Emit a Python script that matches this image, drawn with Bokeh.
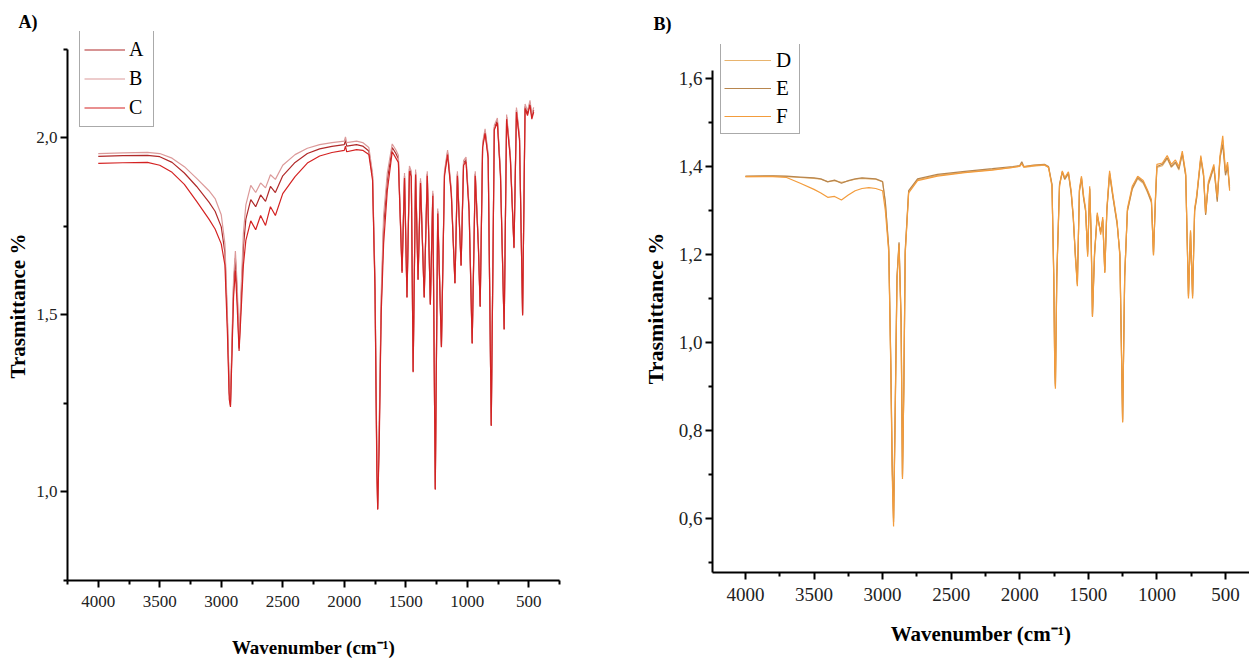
from bokeh.plotting import figure
from bokeh.layouts import row
from bokeh.models import (Range1d, FixedTicker, CustomJSTickFormatter, Legend,
                          LegendItem)
from bokeh.embed import file_html
from bokeh.resources import INLINE

# ---------------- data: panel A ----------------
wn_A = [4000, 3800, 3600, 3500, 3400, 3300, 3200, 3100, 3050, 3000, 2970, 2950,
        2935, 2925, 2915, 2900, 2885, 2870, 2855, 2840, 2820, 2800, 2760, 2720,
        2680, 2640, 2600, 2560, 2500, 2400, 2300, 2200, 2100, 2000, 1990, 1980,
        1900, 1850, 1800, 1770, 1750, 1735, 1728, 1715, 1700, 1680, 1650, 1610,
        1580, 1560, 1530, 1510, 1490, 1470, 1455, 1440, 1420, 1400, 1380, 1350,
        1325, 1300, 1280, 1260, 1240, 1210, 1185, 1160, 1130, 1100, 1080, 1050,
        1030, 1010, 985, 960, 935, 910, 895, 875, 855, 830, 805, 780, 755, 730,
        700, 680, 650, 620, 600, 575, 550, 530, 510, 490, 475, 460]

ser_A = [1.947, 1.949, 1.950, 1.946, 1.930, 1.900, 1.862, 1.818, 1.792, 1.748, 1.675, 1.480,
         1.280, 1.245, 1.380, 1.580, 1.660, 1.552, 1.405, 1.530, 1.690, 1.770, 1.825, 1.805,
         1.838, 1.820, 1.862, 1.845, 1.892, 1.930, 1.955, 1.968, 1.975, 1.980, 1.992, 1.976,
         1.980, 1.976, 1.962, 1.890, 1.580, 1.080, 0.952, 1.180, 1.520, 1.750, 1.880, 1.972,
         1.955, 1.940, 1.622, 1.892, 1.550, 1.912, 1.898, 1.340, 1.902, 1.600, 1.878, 1.550,
         1.898, 1.530, 1.842, 1.008, 1.792, 1.410, 1.898, 1.958, 1.848, 1.590, 1.898, 1.640,
         1.928, 1.938, 1.798, 1.420, 1.898, 1.700, 1.525, 1.978, 2.018, 1.948, 1.188, 2.028, 2.048, 1.898,
         1.460, 2.058, 1.948, 1.690, 2.078, 1.998, 1.500, 2.088, 2.068, 2.098, 2.058, 2.078]

ser_B = [1.955, 1.957, 1.958, 1.955, 1.942, 1.918, 1.885, 1.850, 1.828, 1.782, 1.700, 1.500,
         1.300, 1.255, 1.400, 1.600, 1.680, 1.580, 1.420, 1.560, 1.730, 1.810, 1.865, 1.845,
         1.872, 1.858, 1.895, 1.882, 1.922, 1.952, 1.970, 1.980, 1.986, 1.990, 2.002, 1.986,
         1.990, 1.986, 1.972, 1.900, 1.600, 1.100, 0.960, 1.200, 1.550, 1.780, 1.900, 1.982,
         1.965, 1.950, 1.630, 1.900, 1.555, 1.920, 1.905, 1.345, 1.910, 1.605, 1.885, 1.555,
         1.905, 1.535, 1.850, 1.012, 1.800, 1.415, 1.905, 1.965, 1.855, 1.595, 1.905, 1.645,
         1.935, 1.945, 1.805, 1.425, 1.905, 1.705, 1.528, 1.985, 2.025, 1.955, 1.192, 2.035, 2.055, 1.905,
         1.465, 2.065, 1.955, 1.695, 2.085, 2.005, 1.505, 2.095, 2.075, 2.105, 2.065, 2.085]

ser_C = [1.927, 1.929, 1.930, 1.922, 1.902, 1.868, 1.820, 1.770, 1.742, 1.700, 1.640, 1.450,
         1.262, 1.240, 1.362, 1.550, 1.625, 1.520, 1.398, 1.500, 1.640, 1.710, 1.765, 1.740,
         1.780, 1.752, 1.805, 1.780, 1.842, 1.890, 1.928, 1.948, 1.958, 1.964, 1.976, 1.960,
         1.966, 1.964, 1.952, 1.880, 1.570, 1.060, 0.950, 1.150, 1.500, 1.700, 1.850, 1.960,
         1.942, 1.930, 1.618, 1.886, 1.548, 1.905, 1.890, 1.338, 1.896, 1.598, 1.872, 1.548,
         1.892, 1.528, 1.836, 1.006, 1.786, 1.408, 1.892, 1.952, 1.842, 1.588, 1.892, 1.638,
         1.922, 1.932, 1.792, 1.418, 1.892, 1.696, 1.522, 1.972, 2.012, 1.942, 1.186, 2.022, 2.042, 1.892,
         1.458, 2.052, 1.942, 1.688, 2.072, 1.992, 1.498, 2.082, 2.062, 2.092, 2.052, 2.072]

# ---------------- data: panel B ----------------
wn_B = [4000, 3800, 3700, 3600, 3500, 3450, 3400, 3350, 3300, 3250, 3200, 3150,
        3100, 3050, 3000, 2980, 2955, 2940, 2930, 2920, 2910, 2895, 2880, 2865,
        2855, 2845, 2835, 2810, 2745, 2600, 2400, 2200, 2050, 2000, 1985, 1970,
        1900, 1820, 1790, 1765, 1752, 1745, 1740, 1730, 1710, 1690, 1672, 1645,
        1625, 1610, 1595, 1580, 1565, 1550, 1535, 1520, 1505, 1490, 1480, 1470,
        1455, 1435, 1410, 1395, 1380, 1365, 1345, 1320, 1290, 1270, 1250, 1235,
        1215, 1180, 1140, 1100, 1070, 1040, 1025, 1010, 1000, 960, 925, 895,
        865, 840, 815, 790, 770, 755, 740, 725, 710, 680, 660, 645,
        625, 610, 585, 560, 540, 520, 500, 485, 470]

ser_E = [1.378, 1.379, 1.378, 1.376, 1.374, 1.372, 1.365, 1.369, 1.362, 1.368, 1.372, 1.374,
         1.373, 1.372, 1.366, 1.320, 1.215, 0.950, 0.720, 0.592, 0.800, 1.150, 1.228, 1.050,
         0.695, 0.900, 1.210, 1.345, 1.372, 1.382, 1.389, 1.395, 1.400, 1.402, 1.411, 1.400,
         1.403, 1.405, 1.400, 1.360, 1.150, 0.950, 0.900, 1.150, 1.360, 1.388, 1.372, 1.385,
         1.340, 1.285, 1.200, 1.132, 1.345, 1.375, 1.330, 1.300, 1.200, 1.350, 1.250, 1.060,
         1.200, 1.290, 1.250, 1.280, 1.160, 1.300, 1.385, 1.330, 1.270, 1.200, 0.820, 1.150,
         1.300, 1.350, 1.375, 1.365, 1.345, 1.320, 1.200, 1.330, 1.400, 1.405, 1.420, 1.400,
         1.410, 1.395, 1.430, 1.380, 1.105, 1.250, 1.105, 1.300, 1.330, 1.420, 1.380, 1.290,
         1.360, 1.375, 1.400, 1.320, 1.420, 1.450, 1.380, 1.400, 1.350]

ser_D = [1.377, 1.378, 1.377, 1.375, 1.373, 1.371, 1.366, 1.368, 1.364, 1.367, 1.371, 1.373,
         1.372, 1.371, 1.365, 1.318, 1.212, 0.955, 0.730, 0.600, 0.810, 1.148, 1.225, 1.055,
         0.700, 0.905, 1.205, 1.342, 1.370, 1.380, 1.387, 1.393, 1.398, 1.400, 1.408, 1.398,
         1.401, 1.403, 1.398, 1.358, 1.155, 0.955, 0.905, 1.155, 1.358, 1.386, 1.370, 1.383,
         1.338, 1.282, 1.205, 1.138, 1.342, 1.372, 1.328, 1.298, 1.205, 1.348, 1.252, 1.065,
         1.205, 1.288, 1.252, 1.278, 1.165, 1.298, 1.382, 1.328, 1.268, 1.205, 0.825, 1.152,
         1.298, 1.348, 1.372, 1.362, 1.342, 1.318, 1.205, 1.328, 1.398, 1.402, 1.418, 1.398,
         1.408, 1.392, 1.428, 1.378, 1.110, 1.252, 1.110, 1.298, 1.328, 1.418, 1.378, 1.292,
         1.358, 1.372, 1.398, 1.325, 1.418, 1.460, 1.385, 1.405, 1.355]

ser_F = [1.377, 1.377, 1.375, 1.362, 1.348, 1.340, 1.330, 1.332, 1.324, 1.335, 1.345, 1.350,
         1.352, 1.350, 1.345, 1.300, 1.205, 0.940, 0.700, 0.582, 0.790, 1.140, 1.222, 1.045,
         0.690, 0.895, 1.200, 1.340, 1.368, 1.378, 1.386, 1.392, 1.398, 1.401, 1.406, 1.399,
         1.402, 1.404, 1.398, 1.355, 1.145, 0.945, 0.895, 1.145, 1.355, 1.390, 1.375, 1.388,
         1.345, 1.290, 1.195, 1.128, 1.348, 1.378, 1.335, 1.305, 1.195, 1.355, 1.245, 1.058,
         1.195, 1.295, 1.245, 1.285, 1.158, 1.305, 1.390, 1.335, 1.275, 1.195, 0.818, 1.148,
         1.305, 1.355, 1.378, 1.368, 1.348, 1.325, 1.198, 1.335, 1.405, 1.408, 1.425, 1.405,
         1.415, 1.400, 1.435, 1.385, 1.100, 1.255, 1.100, 1.305, 1.335, 1.425, 1.385, 1.295,
         1.365, 1.380, 1.405, 1.330, 1.425, 1.470, 1.390, 1.410, 1.345]

labels_A = ["A", "B", "C"]
labels_B = ["D", "E", "F"]
colors_A = ["#b02a2a", "#dc9a9a", "#d42222"]
colors_B = ["#e8b46e", "#b8864e", "#f39c3c"]

x_major = [4000, 3500, 3000, 2500, 2000, 1500, 1000, 500]
x_minor = [4250, 3750, 3250, 2750, 2250, 1750, 1250, 750, 250]
yA_major = [1.0, 1.5, 2.0]
yA_minor = [0.75, 1.25, 1.75, 2.25]
yB_major = [0.6, 0.8, 1.0, 1.2, 1.4, 1.6]
yB_minor = [0.5, 0.7, 0.9, 1.1, 1.3, 1.5]

SERIF = "Liberation Serif"
comma_fmt = CustomJSTickFormatter(code="return tick.toFixed(1).replace('.', ',');")


def style_axes(p, tick_size, xlab_size, ylab_size, xstand, ystand):
    for ax in (p.xaxis[0], p.yaxis[0]):
        ax.axis_line_width = 2
        ax.axis_line_color = "black"
        ax.major_tick_line_width = 2
        ax.minor_tick_line_width = 2
        ax.major_tick_out = 7
        ax.major_tick_in = 0
        ax.minor_tick_out = 4
        ax.minor_tick_in = 0
        ax.major_label_text_font = SERIF
        ax.major_label_text_font_size = tick_size
        ax.major_label_text_color = "#222222"
        ax.axis_label_text_font = SERIF
        ax.axis_label_text_font_style = "bold"
        ax.axis_label_text_color = "black"
    p.xaxis[0].axis_label_text_font_size = xlab_size
    p.yaxis[0].axis_label_text_font_size = ylab_size
    p.xaxis[0].major_label_standoff = 8
    p.yaxis[0].major_label_standoff = 3
    p.xaxis[0].axis_label_standoff = xstand
    p.yaxis[0].axis_label_standoff = ystand
    p.xgrid.visible = False
    p.ygrid.visible = False
    p.outline_line_color = None


def style_title(p, text, offset, standoff):
    p.title.text = text
    p.title.align = "left"
    p.title.offset = offset
    p.title.standoff = standoff
    p.title.text_font = SERIF
    p.title.text_font_style = "bold"
    p.title.text_font_size = "18px"
    p.title.text_color = "black"


# ---------------- panel A ----------------
pA = figure(width=636, height=662, output_backend="svg", toolbar_location=None,
            x_range=Range1d(4250, 250), y_range=Range1d(0.75, 2.2994),
            min_border_left=67, min_border_right=77, min_border_top=31,
            min_border_bottom=82, x_axis_label="Wavenumber (cm⁻¹)",
            y_axis_label="Trasmittance %", frame_align=False)
pA.xaxis[0].ticker = FixedTicker(ticks=x_major, minor_ticks=x_minor)
pA.yaxis[0].ticker = FixedTicker(ticks=yA_major, minor_ticks=yA_minor)
pA.yaxis[0].formatter = comma_fmt
pA.yaxis[0].bounds = (0.75, 2.25)
style_axes(pA, "17px", "19px", "21px", 27, 3)
style_title(pA, "A)", -49, 0)

rA = []
for ys, c in zip([ser_A, ser_B, ser_C], colors_A):
    rA.append(pA.line(wn_A, ys, line_color=c, line_width=1.2))
legA = Legend(items=[LegendItem(label=l, renderers=[r]) for l, r in zip(labels_A, rA)],
              location=(12, 453), padding=4, spacing=0, margin=0,
              glyph_width=41, glyph_height=29, label_height=29, label_standoff=4,
              label_text_font=SERIF, label_text_font_size="20px",
              label_text_color="black",
              border_line_color="#555555", border_line_width=1,
              background_fill_alpha=0)
pA.add_layout(legA)

# ---------------- panel B ----------------
pB = figure(width=613, height=662, output_backend="svg", toolbar_location=None,
            x_range=Range1d(4240, 325), y_range=Range1d(0.4773, 1.6773),
            min_border_left=76, min_border_right=0, min_border_top=44,
            min_border_bottom=90, x_axis_label="Wavenumber (cm⁻¹)",
            y_axis_label="Trasmittance %", frame_align=False)
pB.xaxis[0].ticker = FixedTicker(ticks=x_major, minor_ticks=x_minor)
pB.yaxis[0].ticker = FixedTicker(ticks=yB_major, minor_ticks=yB_minor)
pB.yaxis[0].formatter = comma_fmt
pB.yaxis[0].bounds = (0.4773, 1.618)
style_axes(pB, "19px", "21px", "22px", 18, 8)
style_title(pB, "B)", -59, 21)

rB = []
for ys, c in zip([ser_D, ser_E, ser_F], colors_B):
    rB.append(pB.line(wn_B, ys, line_color=c, line_width=1.2))
legB = Legend(items=[LegendItem(label=l, renderers=[r]) for l, r in zip(labels_B, rB)],
              location=(8, 438), padding=3, spacing=0, margin=0,
              glyph_width=47, glyph_height=28, label_height=28, label_standoff=5,
              label_text_font=SERIF, label_text_font_size="21px",
              label_text_color="black",
              border_line_color="#555555", border_line_width=1,
              background_fill_alpha=0)
pB.add_layout(legB)

layout = row(pA, pB)
open("out.html", "w").write(file_html(layout, INLINE))
